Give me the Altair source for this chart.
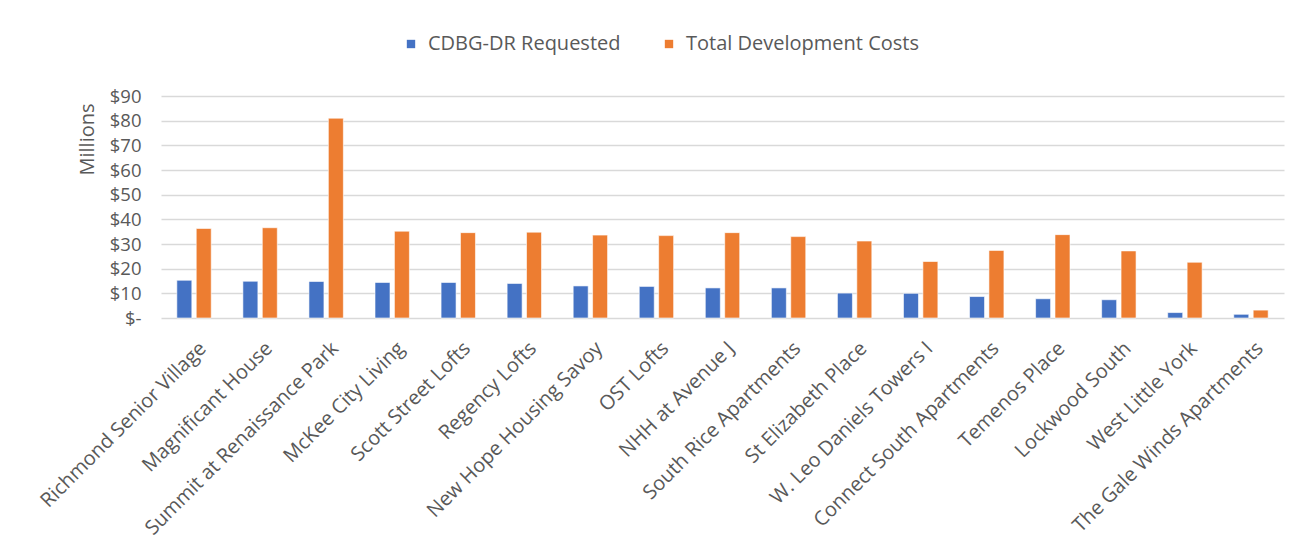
import altair as alt
import pandas as pd

projects = [
    "Richmond Senior Village", "Magnificant House", "Summit at Renaissance Park",
    "McKee City Living", "Scott Street Lofts", "Regency Lofts",
    "New Hope Housing Savoy", "OST Lofts", "NHH at Avenue J",
    "South Rice Apartments", "St Elizabeth Place", "W. Leo Daniels Towers I",
    "Connect South Apartments", "Temenos Place", "Lockwood South",
    "West Little York", "The Gale Winds Apartments",
]
cdbg_requested = [15.3, 14.9, 14.8, 14.4, 14.4, 14.0, 13.0, 12.8, 12.2, 12.2,
                  10.1, 10.0, 8.7, 7.8, 7.4, 2.2, 1.5]
total_costs = [36.3, 36.6, 81.0, 35.2, 34.6, 34.8, 33.6, 33.4, 34.6, 33.0,
               31.2, 22.9, 27.4, 33.8, 27.2, 22.6, 3.2]
series_names = ["CDBG-DR Requested", "Total Development Costs"]
series_colors = ["#4472C4", "#ED7D31"]
y_ticks = [0, 10, 20, 30, 40, 50, 60, 70, 80, 90]

rows = []
for i, p in enumerate(projects):
    rows.append({"project": p, "series": series_names[0], "value": cdbg_requested[i]})
    rows.append({"project": p, "series": series_names[1], "value": total_costs[i]})
df = pd.DataFrame(rows)

FONT = "Open Sans"
TXT = "#595959"

chart = alt.Chart(df).mark_bar(stroke="white", strokeWidth=0.6).encode(
    x=alt.X("project:N", sort=projects,
            scale=alt.Scale(paddingInner=0, paddingOuter=0),
            axis=alt.Axis(title=None, labelAngle=315, labelAlign="right",
                          labelBaseline="middle", labelFontSize=20,
                          labelColor=TXT, labelFont=FONT, ticks=False,
                          domain=False, labelPadding=27, labelOffset=9,
                          labelLimit=400)),
    xOffset=alt.XOffset("series:N", sort=series_names,
                        scale=alt.Scale(paddingInner=0.227, paddingOuter=0.816)),
    y=alt.Y("value:Q", scale=alt.Scale(domain=[0, 90], nice=False),
            axis=alt.Axis(title="Millions", values=y_ticks,
                          labelExpr="datum.value == 0 ? '$-' : '$' + datum.value",
                          labelFontSize=18.5, labelColor=TXT, labelFont=FONT,
                          labelPadding=20, ticks=False, domain=False,
                          gridColor="#D9D9D9", gridWidth=1.3,
                          titleFontSize=20, titleFont=FONT, titleColor=TXT,
                          titleFontWeight="normal", titleAngle=270,
                          titleX=-74, titleY=43, titleAlign="center",
                          titleBaseline="middle")),
    color=alt.Color("series:N", sort=series_names,
                    scale=alt.Scale(domain=series_names, range=series_colors),
                    legend=alt.Legend(title=None, orient="none", direction="horizontal",
                                      legendX=240, legendY=-62, columns=2,
                                      symbolType="square", symbolSize=70,
                                      symbolStrokeWidth=0, labelFontSize=20,
                                      labelFont=FONT, labelColor=TXT,
                                      labelOffset=7, columnPadding=38,
                                      labelLimit=400)),
).properties(
    width=1123, height=222,
    autosize=alt.AutoSizeParams(type="none"),
    padding={"left": 153, "top": 88, "right": 20, "bottom": 226},
).configure(background="white").configure_view(stroke=None, strokeWidth=0)

chart.save("out.html", embed_options={"renderer": "svg", "actions": False})
